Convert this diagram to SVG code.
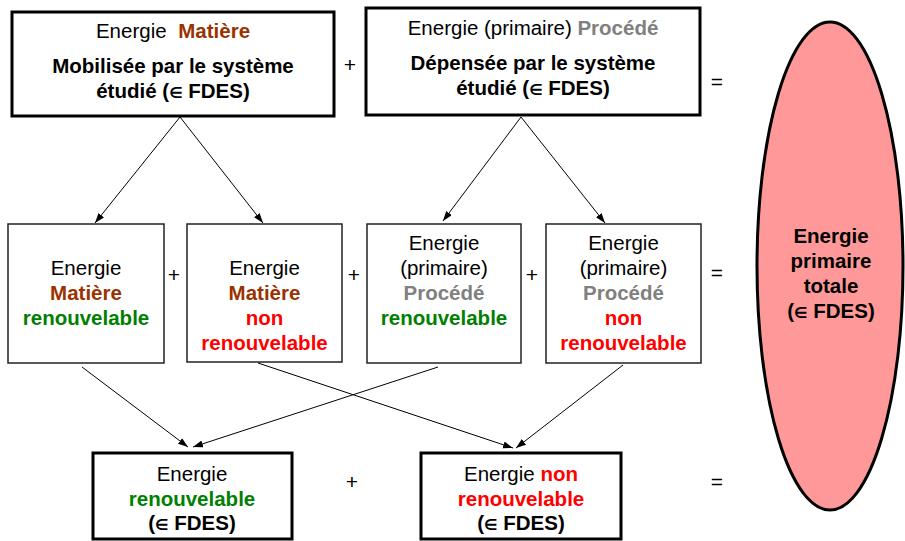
<svg xmlns="http://www.w3.org/2000/svg" width="905" height="541" viewBox="0 0 905 541">
<style>
text{font-family:"Liberation Sans",Arial,"DejaVu Sans",sans-serif;font-size:20.5px;fill:#000;text-anchor:middle}
.b{font-weight:bold}
.mat{fill:#993300;font-weight:bold}
.pro{fill:#808080;font-weight:bold}
.ren{fill:#008000;font-weight:bold}
.non{fill:#ff0000;font-weight:bold}
.el{font-size:15px}
.thick{fill:#fff;stroke:#000;stroke-width:3}
.thin{fill:#fff;stroke:#222;stroke-width:1.5}
.op{font-size:21px}
.cn line{stroke:#000;stroke-width:1;marker-end:url(#ah)}
</style>
<defs>
<marker id="ah" markerUnits="userSpaceOnUse" markerWidth="11" markerHeight="8" refX="10" refY="3.5" orient="auto">
<path d="M0,0 L10,3.5 L0,7 z" fill="#000"/>
</marker>
</defs>

<g id="total">
<ellipse cx="830" cy="266" rx="73" ry="244" fill="#ff9999" stroke="#000" stroke-width="3"/>
<text class="b" x="831" y="243">Energie</text>
<text class="b" x="831" y="268">primaire</text>
<text class="b" x="831" y="293">totale</text>
<text class="b" x="831" y="318">(<tspan class="el">∈</tspan> FDES)</text>
</g>

<g id="matiere">
<rect class="thick" x="12" y="12" width="322" height="104"/>
<text x="173" y="38">Energie <tspan class="mat" dx="6">Matière</tspan></text>
<text class="b" x="173" y="73">Mobilisée par le système</text>
<text class="b" x="173" y="98">étudié (<tspan class="el">∈</tspan> FDES)</text>
</g>

<g id="procede">
<rect class="thick" x="366" y="8" width="334" height="107"/>
<text x="533" y="35">Energie (primaire) <tspan class="pro">Procédé</tspan></text>
<text class="b" x="533" y="70">Dépensée par le système</text>
<text class="b" x="533" y="95">étudié (<tspan class="el">∈</tspan> FDES)</text>
</g>

<g id="mat-ren">
<rect class="thin" x="8" y="224" width="156" height="139"/>
<text x="86" y="275">Energie</text>
<text class="mat" x="86" y="300">Matière</text>
<text class="ren" x="86" y="325">renouvelable</text>
</g>

<g id="mat-nonren">
<rect class="thin" x="187" y="224" width="155" height="138"/>
<text x="264.5" y="275">Energie</text>
<text class="mat" x="264.5" y="300">Matière</text>
<text class="non" x="264.5" y="325">non</text>
<text class="non" x="264.5" y="350">renouvelable</text>
</g>

<g id="pro-ren">
<rect class="thin" x="367" y="224" width="154" height="139"/>
<text x="444" y="250">Energie</text>
<text x="444" y="275">(primaire)</text>
<text class="pro" x="444" y="300">Procédé</text>
<text class="ren" x="444" y="325">renouvelable</text>
</g>

<g id="pro-nonren">
<rect class="thin" x="546" y="224" width="155" height="139"/>
<text x="623.5" y="250">Energie</text>
<text x="623.5" y="275">(primaire)</text>
<text class="pro" x="623.5" y="300">Procédé</text>
<text class="non" x="623.5" y="325">non</text>
<text class="non" x="623.5" y="350">renouvelable</text>
</g>

<g id="renouvelable">
<rect class="thick" x="93" y="453" width="199" height="86"/>
<text x="192" y="481">Energie</text>
<text class="ren" x="192" y="506">renouvelable</text>
<text class="b" x="192" y="530">(<tspan class="el">∈</tspan> FDES)</text>
</g>

<g id="non-renouvelable">
<rect class="thick" x="421" y="453" width="200" height="86"/>
<text x="521" y="481">Energie <tspan class="non">non</tspan></text>
<text class="non" x="521" y="506">renouvelable</text>
<text class="b" x="521" y="530">(<tspan class="el">∈</tspan> FDES)</text>
</g>

<g id="operators">
<text class="op" x="350" y="72">+</text>
<text class="op" x="717" y="89">=</text>
<text class="op" x="174" y="282">+</text>
<text class="op" x="354" y="282">+</text>
<text class="op" x="532" y="282">+</text>
<text class="op" x="717" y="280">=</text>
<text class="op" x="352" y="489">+</text>
<text class="op" x="717" y="489">=</text>
</g>

<g id="connectors" class="cn">
<line x1="180" y1="117" x2="95" y2="223"/>
<line x1="180" y1="117" x2="263" y2="223"/>
<line x1="521" y1="117" x2="443" y2="221"/>
<line x1="521" y1="117" x2="605" y2="223"/>
<line x1="82" y1="367" x2="188" y2="447"/>
<line x1="438" y1="367" x2="193" y2="447"/>
<line x1="258" y1="363" x2="513" y2="448"/>
<line x1="623" y1="365" x2="516" y2="448"/>
</g>
</svg>
